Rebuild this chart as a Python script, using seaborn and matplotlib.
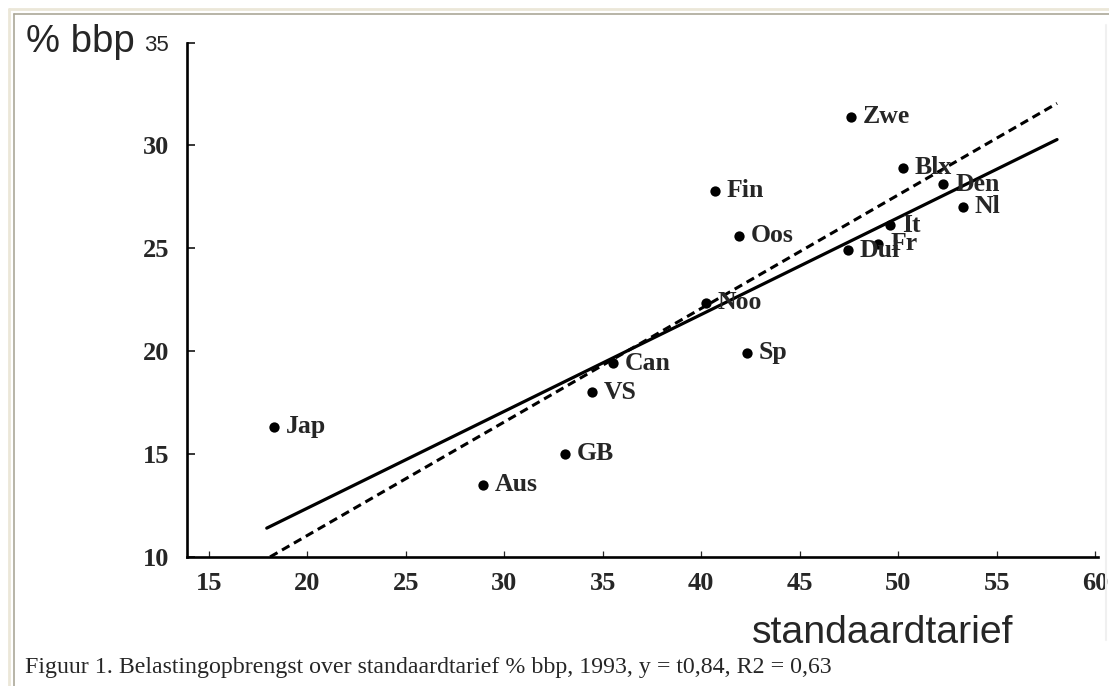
import pandas as pd
import matplotlib
matplotlib.use("Agg")
import matplotlib.pyplot as plt
from matplotlib.lines import Line2D
import seaborn as sns

# data
countries = ["Zwe", "Blx", "Den", "Nl", "It", "Fr", "Dui", "Fin", "Oos",
             "Noo", "Sp", "Can", "VS", "Jap", "GB", "Aus"]
tarief = [47.6, 50.25, 52.3, 53.3, 49.6, 49.0, 47.45, 40.7, 41.9,
          40.25, 42.3, 35.5, 34.45, 18.3, 33.1, 28.9]
bbp = [31.4, 28.9, 28.1, 27.0, 26.1, 25.2, 24.9, 27.8, 25.6,
       22.35, 19.9, 19.4, 18.0, 16.3, 15.0, 13.5]

# end points of the two fitted lines
line_x = [17.93, 58.07]
solid_y = [11.38, 30.28]
dash_x = [18.1, 58.07]
dash_y = [9.98, 32.04]

xticks = [15, 20, 25, 30, 35, 40, 45, 50, 55, 60]
yticks = [10, 15, 20, 25, 30, 35]

df = pd.DataFrame({"land": countries, "tarief": tarief, "bbp": bbp})

sns.set_style("white")
fig = plt.figure(figsize=(11.09, 6.86), dpi=100)
ax = fig.add_axes([187 / 1109, 1 - 556.5 / 686, (1098 - 187) / 1109, 514 / 686])

sns.scatterplot(data=df, x="tarief", y="bbp", ax=ax, color="black", s=55,
                edgecolor="black", linewidth=0, legend=False, zorder=3)
sns.lineplot(x=line_x, y=solid_y, ax=ax, color="black", linewidth=2.3)
sns.lineplot(x=dash_x, y=dash_y, ax=ax, color="black", linewidth=2.2,
             linestyle=(0, (2.8, 1.7)))

for _, r in df.iterrows():
    ax.annotate(r["land"], (r["tarief"], r["bbp"]), xytext=(8.5, 0),
                textcoords="offset points", va="center", ha="left",
                fontsize=18.5, fontweight="bold", family="Liberation Serif")

ax.set_xlim(13.88, 60.15)
ax.set_ylim(10, 35)
ax.set_xticks(xticks, [str(t) for t in xticks])
ax.set_yticks(yticks, [str(t) for t in yticks])
ax.set_xlabel("")
ax.set_ylabel("")

for side in ["top", "right"]:
    ax.spines[side].set_visible(False)
for side in ["left", "bottom"]:
    ax.spines[side].set_color("black")
    ax.spines[side].set_linewidth(1.9)

ax.tick_params(axis="y", direction="in", length=6, width=1.3, pad=13, left=True)
ax.tick_params(axis="x", direction="in", length=4, width=0.9, pad=11, bottom=True)
for lbl in ax.get_xticklabels() + ax.get_yticklabels():
    lbl.set_family("Liberation Serif")
    lbl.set_fontweight("bold")
    lbl.set_fontsize(19)
for lbl in ax.get_yticklabels():
    if lbl.get_text() == "35":
        lbl.set_family("Liberation Sans")
        lbl.set_fontweight("normal")
        lbl.set_fontsize(16)

fig.text(26 / 1109, 1 - 52 / 686, "% bbp", family="Liberation Sans",
         fontsize=27.5, va="baseline", ha="left")
fig.text(752 / 1109, 1 - 643 / 686, "standaardtarief", family="Liberation Sans",
         fontsize=28.3, va="baseline", ha="left")
fig.text(25 / 1109, 1 - 673 / 686,
         "Figuur 1. Belastingopbrengst over standaardtarief % bbp, 1993, y = t0,84, R2 = 0,63",
         family="Liberation Serif", fontsize=17.2, va="baseline", ha="left")

# page frame around the figure
W, H = 1109, 686
fig.add_artist(Line2D([9 / W, 1], [1 - 9 / H, 1 - 9 / H], color="#ebe7d8", lw=2))
fig.add_artist(Line2D([9 / W, 9 / W], [0, 1 - 9 / H], color="#ebe7d8", lw=2))
fig.add_artist(Line2D([14 / W, 1], [1 - 14 / H, 1 - 14 / H], color="#aca898", lw=1.2))
fig.add_artist(Line2D([14 / W, 14 / W], [0, 1 - 14 / H], color="#aca898", lw=1.2))
fig.add_artist(Line2D([1106 / W, 1106 / W], [1 - 640 / H, 1 - 25 / H], color="#f0f0f0", lw=1.5))

fig.savefig("out.png", dpi=100)
